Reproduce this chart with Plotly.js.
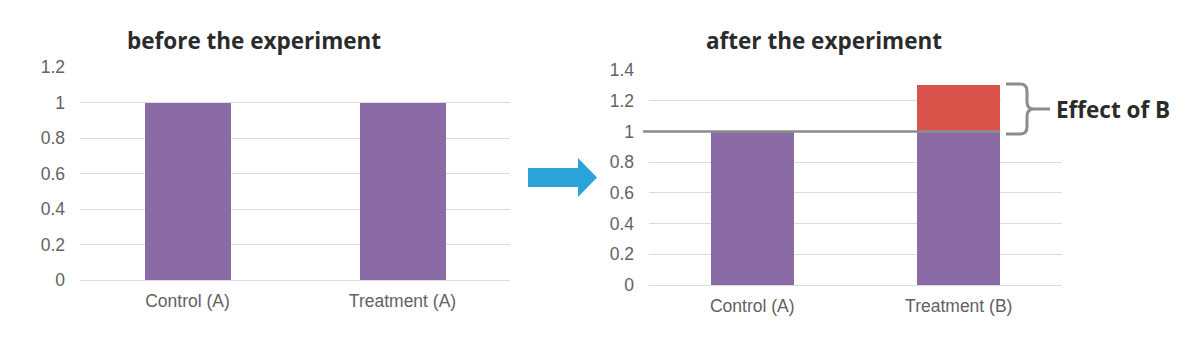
<!DOCTYPE html>
<html><head><meta charset="utf-8">
<script src="https://cdn.plot.ly/plotly-3.0.1.min.js"></script>
<style>html,body{margin:0;padding:0;background:#fff}#chart{width:1200px;height:354px}</style>
</head><body><div id="chart"></div>
<script>
// ---- data ----
const beforeCategories = ["Control (A)", "Treatment (A)"];
const beforeValues = [1, 1];
const afterCategories = ["Control (A)", "Treatment (B)"];
const afterBaseValues = [1, 1];
const afterEffectValues = [0, 0.3];
const beforeTicks = [0, 0.2, 0.4, 0.6, 0.8, 1, 1.2];
const afterTicks = [0, 0.2, 0.4, 0.6, 0.8, 1, 1.2, 1.4];
const beforeTitle = "before the experiment";
const afterTitle = "after the experiment";
const effectLabel = "Effect of B";

// ---- helpers (pixel -> paper) ----
const W = 1200, H = 354;
const px = x => x / W;
const py = y => 1 - y / H;

const purple = "#8B6BA5";
const red = "#D9534A";
const grid = "#DCDCDC";
const tickFont = {family: "Liberation Sans, Arial, sans-serif", size: 17.5, color: "#626262"};
const titleFont = {family: "Open Sans, sans-serif", size: 22.5, color: "#2b2b2b", weight: 700};

const traces = [
  {type: "bar", x: beforeCategories, y: beforeValues, xaxis: "x", yaxis: "y",
   marker: {color: purple}, hoverinfo: "skip", showlegend: false},
  {type: "bar", x: afterCategories, y: afterBaseValues, xaxis: "x2", yaxis: "y2",
   marker: {color: purple}, hoverinfo: "skip", showlegend: false},
  {type: "bar", x: afterCategories, y: afterEffectValues, xaxis: "x2", yaxis: "y2",
   marker: {color: red}, hoverinfo: "skip", showlegend: false}
];

function yAx(domain, range, ticks, anchor) {
  return {domain: domain, range: range, tickvals: ticks, ticktext: ticks.map(String),
    showgrid: true, gridcolor: grid, gridwidth: 1, zeroline: false, showline: false,
    ticks: "", tickfont: tickFont, anchor: anchor, fixedrange: true, ticklabelstandoff: 14};
}
function xAx(domain, anchor) {
  return {domain: domain, type: "category", showgrid: false, zeroline: false,
    showline: true, linecolor: grid, linewidth: 1, ticks: "", tickfont: tickFont, anchor: anchor,
    fixedrange: true, ticklabelstandoff: 5};
}

const layout = {
  width: W, height: H,
  margin: {l: 0, r: 0, t: 0, b: 0},
  paper_bgcolor: "#fff", plot_bgcolor: "#fff",
  barmode: "stack", bargap: 0.6,
  xaxis: xAx([px(80), px(510)], "y"),
  yaxis: yAx([py(280), py(67.3)], [0, 1.2], beforeTicks, "x"),
  xaxis2: xAx([px(649), px(1062)], "y2"),
  yaxis2: yAx([py(285), py(70)], [0, 1.4], afterTicks, "x2"),
  annotations: [
    {text: "<b>" + beforeTitle + "</b>", xref: "paper", yref: "paper", x: px(253.5), y: py(41),
     xanchor: "center", yanchor: "middle", showarrow: false, font: titleFont},
    {text: "<b>" + afterTitle + "</b>", xref: "paper", yref: "paper", x: px(824), y: py(41),
     xanchor: "center", yanchor: "middle", showarrow: false, font: titleFont},
    {text: "<b>" + effectLabel + "</b>", xref: "paper", yref: "paper", x: px(1054), y: py(109),
     xanchor: "left", yanchor: "middle", showarrow: false, font: titleFont}
  ],
  shapes: [
    // white box hiding gridlines behind the brace
    {type: "rect", xref: "paper", yref: "paper", x0: px(1001), x1: px(1064), y0: py(134), y1: py(84),
     fillcolor: "#fff", line: {width: 0}, layer: "above"},
    // reference line at 1
    {type: "line", xref: "paper", yref: "y2", x0: px(643), x1: px(1000), y0: 1, y1: 1,
     line: {color: "#8C8C8C", width: 2.5}, layer: "above"},
    // brace
    {type: "path", xref: "paper", yref: "paper",
     path: `M ${px(1006)} ${py(84)} L ${px(1020)} ${py(84)} Q ${px(1027)} ${py(84)} ${px(1027)} ${py(91)} L ${px(1027)} ${py(102)} Q ${px(1027)} ${py(109)} ${px(1034)} ${py(109)} L ${px(1050)} ${py(109)} M ${px(1034)} ${py(109)} Q ${px(1027)} ${py(109)} ${px(1027)} ${py(116)} L ${px(1027)} ${py(127)} Q ${px(1027)} ${py(134)} ${px(1020)} ${py(134)} L ${px(1006)} ${py(134)}`,
     line: {color: "#8C8C8C", width: 3}, layer: "above"},
    // arrow
    {type: "path", xref: "paper", yref: "paper",
     path: `M ${px(528)} ${py(168)} L ${px(578)} ${py(168)} L ${px(578)} ${py(158)} L ${px(597)} ${py(177.5)} L ${px(578)} ${py(197)} L ${px(578)} ${py(187)} L ${px(528)} ${py(187)} Z`,
     fillcolor: "#29A3DA", line: {width: 0}, layer: "above"}
  ]
};

Plotly.newPlot("chart", traces, layout, {displayModeBar: false, staticPlot: true});
</script></body></html>
